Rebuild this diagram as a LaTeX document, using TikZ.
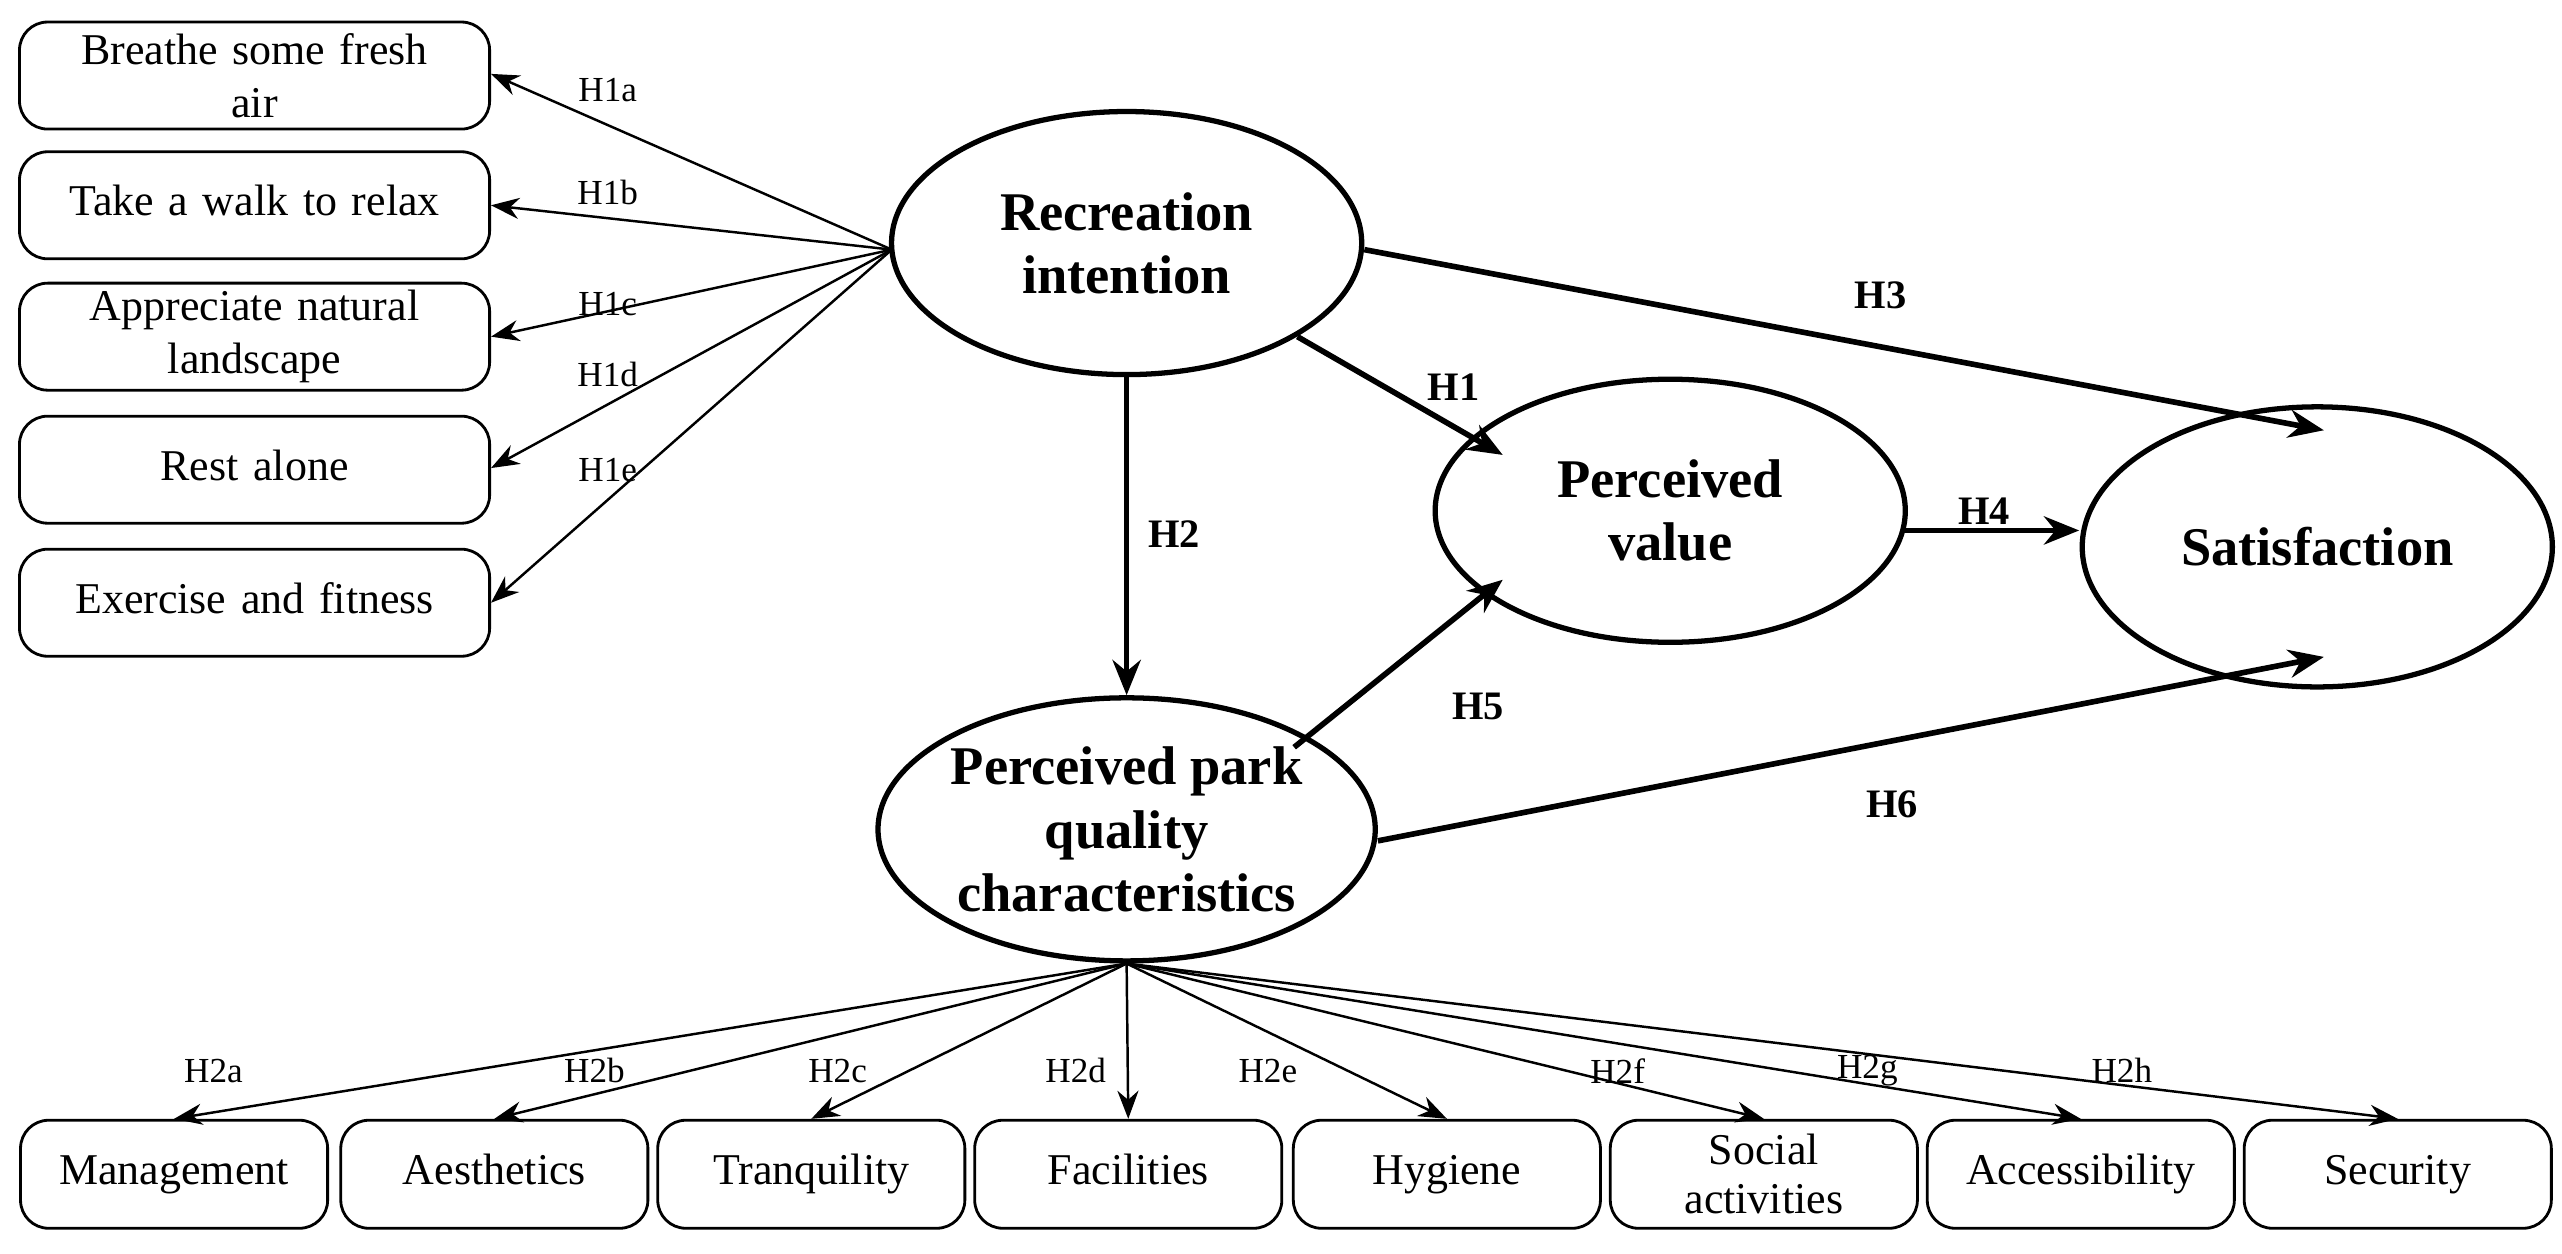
\documentclass[tikz,border=0pt]{standalone}
\usepackage{fontspec}
\setmainfont{Liberation Serif}
\usetikzlibrary{shapes.geometric,arrows.meta}
\begin{document}
\begin{tikzpicture}[x=0.01642cm,y=-0.01642cm,
 box/.style={draw,rounded corners=8pt,line width=0.8pt,minimum width=4.7cm,minimum height=1.07cm,align=center,font=\fontsize{12.5}{15}\selectfont,inner sep=1pt,text width=4.3cm},
 bbox/.style={draw,rounded corners=8pt,line width=0.8pt,minimum width=3.06cm,minimum height=1.08cm,align=center,font=\fontsize{12.5}{14}\selectfont,inner sep=1pt,text width=3cm},
 ell/.style={draw,ellipse,line width=1.5pt,minimum width=4.7cm,minimum height=2.63cm,align=center,font=\bfseries\fontsize{15.5}{18}\selectfont,inner sep=0pt},
 arr/.style={-{Stealth[length=8pt,width=6pt]},line width=0.7pt},
 barr/.style={-{Stealth[length=10pt,width=8pt]},line width=1.6pt},
 lab/.style={font=\fontsize{10}{11}\selectfont},
 blab/.style={font=\bfseries\fontsize{11.5}{12}\selectfont}]
\useasboundingbox (0,0) rectangle (1560,763);
\node[box] (b1) at (155,46) {Breathe some fresh\\air};
\node[box] (b2) at (155,125) {\strut Take a walk to relax};
\node[box] (b3) at (155,205) {Appreciate natural\\landscape};
\node[box] (b4) at (155,286) {\strut Rest alone};
\node[box] (b5) at (155,367) {\strut Exercise and fitness};
\node[ell] (ri) at (686,148) {Recreation\\intention};
\node[ell] (pv) at (1017,311) {Perceived\\value};
\node[ell,minimum height=2.8cm] (sa) at (1411,333) {Satisfaction};
\node[ell] (pq) at (686,505) {Perceived park\\quality\\characteristics};
\coordinate (ro) at (543,152);
\foreach \i/\y/\l in {1/45/a,2/125/b,3/205/c,4/285/d,5/367/e}{
 \draw[arr] (ro) -- (b\i.east|-0,\y);
}
\node[lab] at (370,55) {H1a};
\node[lab] at (370,117) {H1b};
\node[lab] at (370,185) {H1c};
\node[lab] at (370,228) {H1d};
\node[lab] at (370,286) {H1e};
\foreach \i/\x/\t in {1/106/\strut Management,2/301/\strut Aesthetics,3/494/\strut Tranquility,4/687/\strut Facilities,5/881/\strut Hygiene,6/1074/Social\\activities,7/1267/\strut Accessibility,8/1460/\strut Security}{
 \node[bbox] (c\i) at (\x,715) {\t};
 \draw[arr] (pq.south) -- (c\i.north);
}
\foreach \x/\t in {130/a,362/b,510/c,655/d,772/e,985/f,1137/g,1292/h}{
 \node[lab] at (\x,652) {H2\t};
}
\coordinate (h4s) at (1160,323);
\coordinate (h4e) at (1266,323);
\draw[barr] (ri.east|-0,152) -- (1415,262);
\node[blab] at (1145,180) {H3};
\draw[barr] (790,205) -- (915,277);
\node[blab] at (885,236) {H1};
\draw[barr] (ri.south) -- (pq.north);
\node[blab] at (715,325) {H2};
\draw[barr] (h4s) -- (h4e);
\node[blab] at (1208,311) {H4};
\draw[barr] (788,455) -- (915,353);
\node[blab] at (900,430) {H5};
\draw[barr] (pq.east|-0,512) -- (1415,400);
\node[blab] at (1152,490) {H6};
\end{tikzpicture}
\end{document}
